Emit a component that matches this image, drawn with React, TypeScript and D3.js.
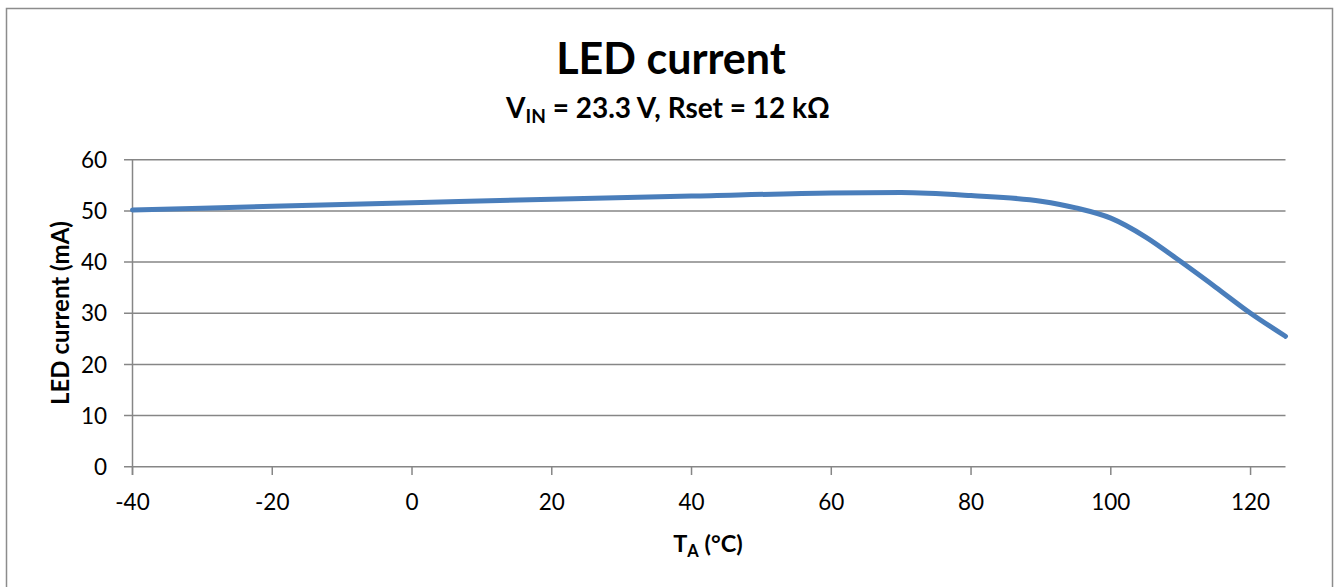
import React from "react";
import * as d3 from "d3";

const temps = [-40, -20, 0, 20, 40, 60, 70, 80, 90, 95, 100, 105, 110, 115, 120, 125];
const current = [50.2, 50.9, 51.6, 52.3, 52.9, 53.5, 53.6, 53.0, 51.9, 50.6, 48.6, 44.9, 40.1, 35.1, 30.0, 25.5];
const xTicks = [-40, -20, 0, 20, 40, 60, 80, 100, 120];
const yTicks = [0, 10, 20, 30, 40, 50, 60];

const W = 1335;
const H = 587;
const FONT = "Lato, 'Open Sans', sans-serif";

export default function App() {
  const x = d3.scaleLinear().domain([-40, 125]).range([132.5, 1285.5]);
  const y = d3.scaleLinear().domain([0, 60]).range([466.7, 159.8]);
  const pts: [number, number][] = temps.map((t, i) => [t, current[i]]);
  const line = d3
    .line<[number, number]>()
    .x((d) => x(d[0]))
    .y((d) => y(d[1]))
    .curve(d3.curveMonotoneX);
  const grid = "#868686";
  return (
    <div style={{ position: "absolute", left: 0, top: 0 }}>
      <svg width={W} height={H} style={{ display: "block" }}>
        <rect x={0} y={0} width={W} height={H} fill="#fff" />
        <rect x={6.5} y={8.5} width={1326} height={600} fill="#fff" stroke="#8c8c8c" strokeWidth={1.5} />
        {yTicks.map((t) => (
          <g key={"y" + t}>
            <line x1={124} x2={x(125)} y1={y(t)} y2={y(t)} stroke={grid} strokeWidth={1.5} />
            <text x={107} y={y(t)} dy="0.36em" textAnchor="end" fontFamily={FONT} fontSize={22.5} fill="#000">
              {t}
            </text>
          </g>
        ))}
        <line x1={x(-40)} x2={x(-40)} y1={y(60)} y2={475} stroke={grid} strokeWidth={1.5} />
        {xTicks.map((t) => (
          <g key={"x" + t}>
            <line x1={x(t)} x2={x(t)} y1={y(0)} y2={475} stroke={grid} strokeWidth={1.5} />
            <text x={x(t)} y={510} textAnchor="middle" fontFamily={FONT} fontSize={22.5} fill="#000">
              {t}
            </text>
          </g>
        ))}
        <path d={line(pts) || ""} fill="none" stroke="#4a7ebb" strokeWidth={5} strokeLinecap="round" />
        <text x={671} y={74} textAnchor="middle" fontFamily={FONT} fontWeight="bold" fontSize={43} fill="#000">
          LED current
        </text>
        <text x={668} y={118} textAnchor="middle" fontFamily={FONT} fontWeight="bold" fontSize={28} fill="#000">
          V<tspan fontSize={19} dy={5}>IN</tspan>
          <tspan dy={-5}> = 23.3 V, Rset = 12 kΩ</tspan>
        </text>
        <text
          transform={`translate(69,${313}) rotate(-90)`}
          textAnchor="middle"
          fontFamily={FONT}
          fontWeight="bold"
          fontSize={24}
          fill="#000"
        >
          LED current (mA)
        </text>
        <text x={708} y={552} textAnchor="middle" fontFamily={FONT} fontWeight="bold" fontSize={23.5} fill="#000">
          T<tspan fontSize={16.5} dy={5}>A</tspan>
          <tspan dy={-5}> (°C)</tspan>
        </text>
      </svg>
    </div>
  );
}
